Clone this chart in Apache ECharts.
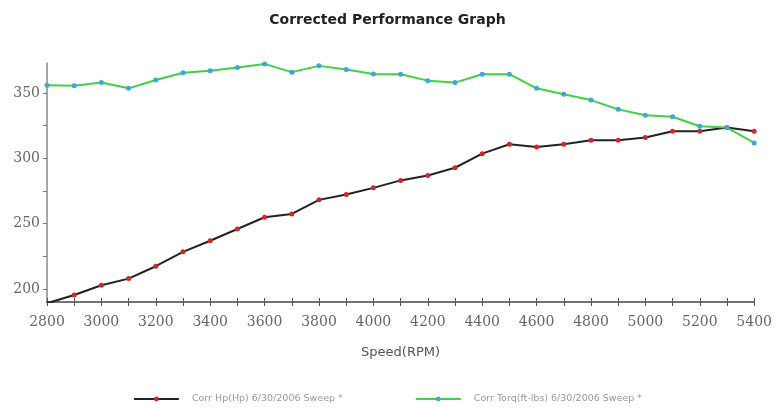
<!DOCTYPE html>
<html>
<head>
<meta charset="utf-8">
<script src="https://cdn.jsdelivr.net/npm/echarts@6/dist/echarts.min.js"></script>
<style>
html,body{margin:0;padding:0;background:#fff;}
#chart{width:775px;height:410px;}
</style>
</head>
<body>
<div id="chart"></div>
<script>
var rpm = [2800,2900,3000,3100,3200,3300,3400,3500,3600,3700,3800,3900,4000,4100,4200,4300,4400,4500,4600,4700,4800,4900,5000,5100,5200,5300,5400];
var corrHp = [189,195.4,202.8,207.9,217.4,228.4,236.9,245.9,254.9,257.4,268.2,272.3,277.4,283.1,286.9,292.8,303.6,310.8,308.7,310.8,313.8,313.8,315.9,320.8,320.8,323.6,320.8];
var corrTorq = [356,355.6,358,353.6,360,365.6,367,369.5,372.3,366,370.8,368,364.6,364.4,359.5,358,364.4,364.4,353.6,349,344.6,337.5,333,331.8,324.6,323.6,311.8];
var seriesNames = ['Corr Hp(Hp) 6/30/2006 Sweep *','Corr Torq(ft-lbs) 6/30/2006 Sweep *'];
var titleText = 'Corrected Performance Graph';
var xAxisName = 'Speed(RPM)';
var yLabelValues = [200,250,300,350];
var yTickValues = [200,225,250,275,300,325,350];

function pairs(xs, ys){ return xs.map(function(x,i){ return [x, ys[i]]; }); }

var chart = echarts.init(document.getElementById('chart'));
chart.setOption({
  animation:false,
  backgroundColor:'#fff',
  title:{
    text:titleText, left:'center', top:8,
    textStyle:{fontFamily:'DejaVu Sans', fontSize:14, fontWeight:'bold', color:'#222'}
  },
  grid:{left:47, right:20, top:63, bottom:108, containLabel:false},
  legend:{
    bottom:1, left:'center', itemWidth:45, itemHeight:6, itemGap:72,
    textStyle:{fontSize:9.5, color:'#999', fontFamily:'DejaVu Sans', padding:[0,0,0,8]},
    data:seriesNames
  },
  xAxis:[{
    type:'value', min:2800, max:5400, interval:100,
    name:xAxisName, nameLocation:'middle', nameGap:44,
    nameTextStyle:{fontSize:13, color:'#555', fontFamily:'DejaVu Sans'},
    axisLine:{lineStyle:{color:'#444', width:1.5}},
    axisTick:{show:true, length:4, lineStyle:{color:'#555'}},
    splitLine:{show:false},
    axisLabel:{margin:13, fontSize:14, color:'#666', fontFamily:'DejaVu Serif',
      formatter:function(v){ return ((v-2800)%200===0) ? String(v) : ''; }}
  },{
    type:'value', min:2800, max:5400, interval:100, position:'bottom',
    axisLine:{show:false},
    axisTick:{show:true, inside:true, length:4, lineStyle:{color:'#555'}},
    axisLabel:{show:false}, splitLine:{show:false}
  }],
  yAxis:{
    type:'value', min:190, max:373,
    axisLine:{show:true, lineStyle:{color:'#888', width:1.5}},
    axisTick:{show:true, length:4, customValues:yTickValues, lineStyle:{color:'#777'}},
    axisLabel:{fontSize:14, color:'#666', margin:7, fontFamily:'DejaVu Serif', customValues:yLabelValues},
    splitLine:{show:false}
  },
  series:[{
    name:seriesNames[0], type:'line', data:pairs(rpm, corrHp),
    symbol:'circle', symbolSize:5,
    lineStyle:{color:'#222', width:2},
    itemStyle:{color:'#d02828'}
  },{
    name:seriesNames[1], type:'line', data:pairs(rpm, corrTorq),
    symbol:'circle', symbolSize:5,
    lineStyle:{color:'#3fd33f', width:2},
    itemStyle:{color:'#3aa8d8'}
  }]
});
</script>
</body>
</html>
